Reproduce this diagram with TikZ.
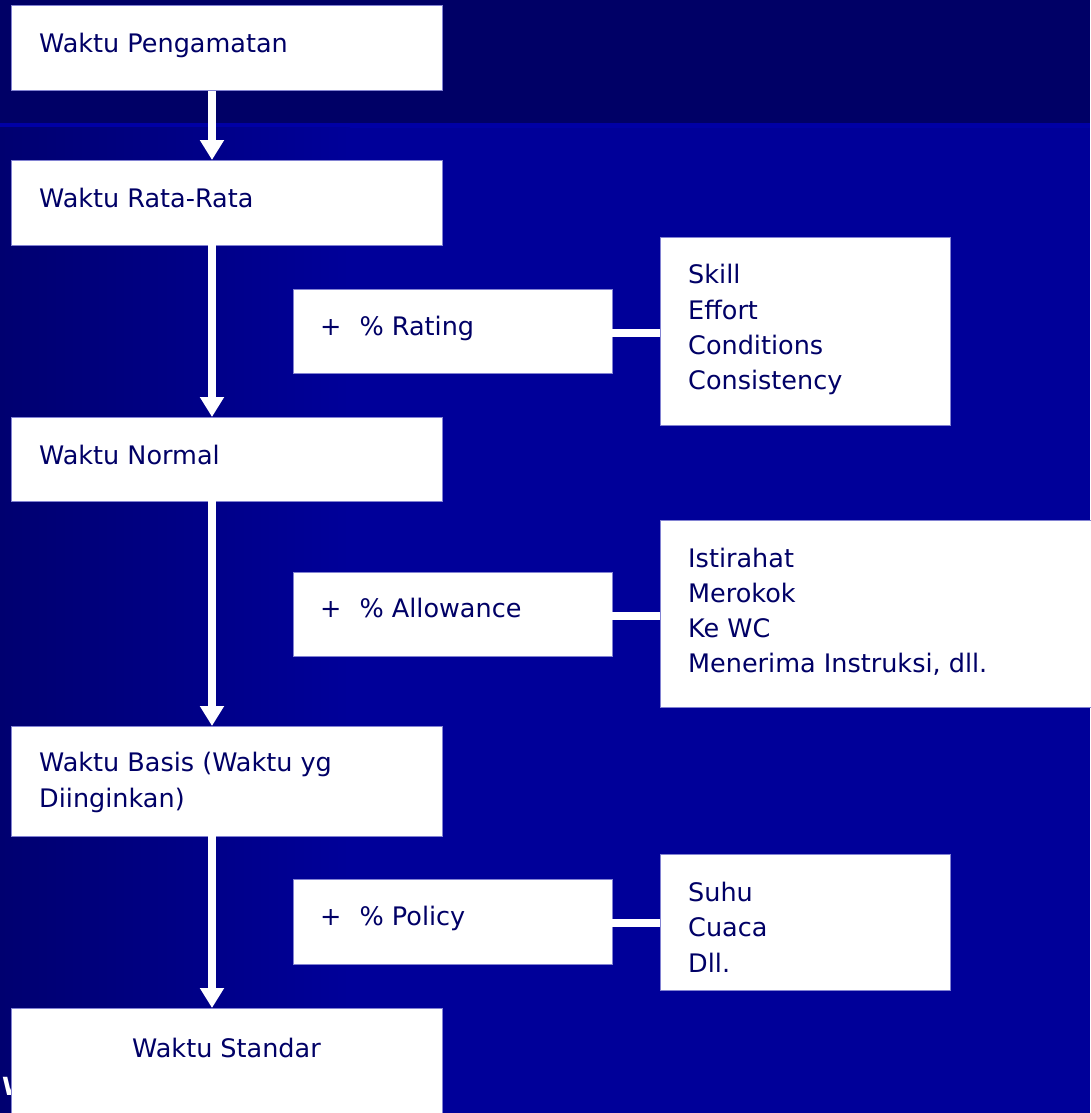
\documentclass[tikz,border=0pt]{standalone}
\usepackage{fontspec}
\setmainfont{DejaVu Sans}
\usetikzlibrary{arrows.meta,calc}
\definecolor{bandtop}{RGB}{0,0,102}
\definecolor{stripe}{RGB}{0,0,165}
\definecolor{bgleft}{RGB}{0,0,112}
\definecolor{bgmain}{RGB}{0,0,153}
\definecolor{txt}{RGB}{0,0,102}
\definecolor{edge}{RGB}{130,130,210}
\tikzset{
  box/.style={draw=edge, line width=1pt, fill=white, anchor=north west, inner sep=0pt, outer sep=0pt},
  lbl/.style={anchor=base west, inner sep=0pt, text=txt, font=\fontsize{25.5}{35}\selectfont},
  flow/.style={draw=white, line width=8pt, -{Triangle[width=23pt,length=20pt]}},
  conn/.style={draw=white, line width=8pt},
}
\begin{document}
\begin{tikzpicture}[x=1pt,y=-1pt]
\useasboundingbox (0,0) rectangle (1090,1113);
% background
\fill[bandtop] (0,0) rectangle (1090,123);
\fill[stripe] (0,123) rectangle (1090,128);
\fill[bgmain] (0,128) rectangle (1090,1113);
\shade[left color=bgleft,right color=bgmain] (0,128) rectangle (350,1113);

% partly hidden white letter
\node[anchor=base west, inner sep=0pt, text=white, font=\bfseries\fontsize{25}{30}\selectfont] (wfrag) at (2,1095) {W};

% main column
\node[box, minimum width=431pt, minimum height=85pt] (b1) at (11,6) {};
\node[box, minimum width=431pt, minimum height=85pt] (b2) at (11,160) {};
\node[box, minimum width=431pt, minimum height=84pt] (b3) at (11,417) {};
\node[box, minimum width=431pt, minimum height=110pt] (b4) at (11,726) {};
\node[box, minimum width=431pt, minimum height=120pt] (b5) at (11,1008) {};

% percentage boxes
\node[box, minimum width=319pt, minimum height=84pt] (r1) at (293,289) {};
\node[box, minimum width=319pt, minimum height=84pt] (r2) at (293,572) {};
\node[box, minimum width=319pt, minimum height=85pt] (r3) at (293,879) {};

% factor boxes
\node[box, minimum width=290pt, minimum height=188pt] (s1) at (660,237) {};
\node[box, minimum width=440pt, minimum height=187pt] (s2) at (660,520) {};
\node[box, minimum width=290pt, minimum height=136pt] (s3) at (660,854) {};

% texts
\node[lbl] (t1) at (39,53) {Waktu Pengamatan};
\node[lbl] (t2) at (39,207) {Waktu Rata-Rata};
\node[lbl] (t3) at (39,464) {Waktu Normal};
\node[lbl] (t4a) at (39,771) {Waktu Basis (Waktu yg};
\node[lbl] (t4b) at (39,807) {Diinginkan)};
\node[lbl, anchor=base] (t5) at (226.5,1057) {Waktu Standar};

\node[lbl] (p1) at (320,335) {+\hspace{18pt}\% Rating};
\node[lbl] (p2) at (320,617) {+\hspace{18pt}\% Allowance};
\node[lbl] (p3) at (320,925) {+\hspace{18pt}\% Policy};

\node[lbl] (f1a) at (688,283) {Skill};
\node[lbl] (f1b) at (688,319) {Effort};
\node[lbl] (f1c) at (688,354) {Conditions};
\node[lbl] (f1d) at (688,389) {Consistency};

\node[lbl] (f2a) at (688,567) {Istirahat};
\node[lbl] (f2b) at (688,602) {Merokok};
\node[lbl] (f2c) at (688,637) {Ke WC};
\node[lbl] (f2d) at (688,672) {Menerima Instruksi, dll.};

\node[lbl] (f3a) at (688,901) {Suhu};
\node[lbl] (f3b) at (688,936) {Cuaca};
\node[lbl] (f3c) at (688,972) {Dll.};

% flow arrows
\draw[flow] ($(b1.south west)+(201,0)$) -- ($(b2.north west)+(201,0)$);
\draw[flow] ($(b2.south west)+(201,0)$) -- ($(b3.north west)+(201,0)$);
\draw[flow] ($(b3.south west)+(201,0)$) -- ($(b4.north west)+(201,0)$);
\draw[flow] ($(b4.south west)+(201,0)$) -- ($(b5.north west)+(201,0)$);

% connectors
\draw[conn] ([yshift=-1.5pt]r1.east) -- ([yshift=-1.5pt]r1.east -| s1.west);
\draw[conn] ([yshift=-1.5pt]r2.east) -- ([yshift=-1.5pt]r2.east -| s2.west);
\draw[conn] ([yshift=-1.5pt]r3.east) -- ([yshift=-1.5pt]r3.east -| s3.west);
\end{tikzpicture}
\end{document}
